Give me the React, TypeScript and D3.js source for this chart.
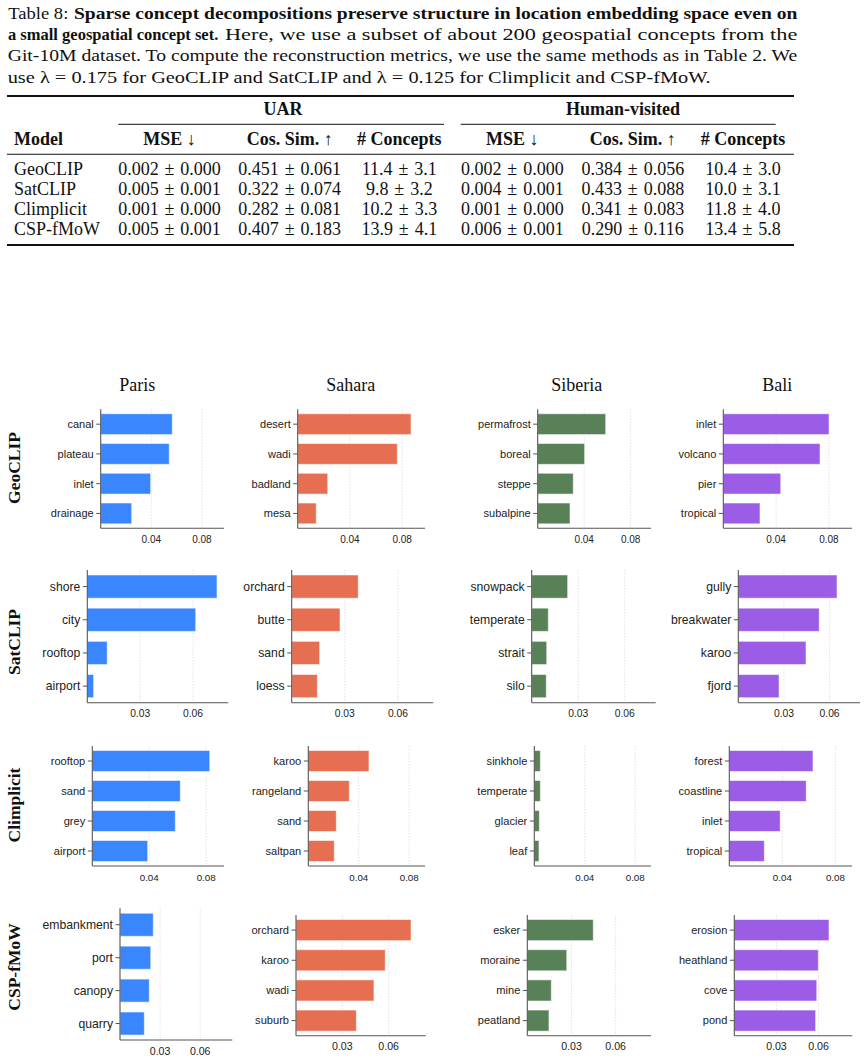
import * as d3 from 'd3'

// ---- table values (mean, std) ----
const tableModels = ['GeoCLIP', 'SatCLIP', 'Climplicit', 'CSP-fMoW']
const uarMse = [[0.002, 0.0], [0.005, 0.001], [0.001, 0.0], [0.005, 0.001]]
const uarCos = [[0.451, 0.061], [0.322, 0.074], [0.282, 0.081], [0.407, 0.183]]
const uarConcepts = [[11.4, 3.1], [9.8, 3.2], [10.2, 3.3], [13.9, 4.1]]
const hvMse = [[0.002, 0.0], [0.004, 0.001], [0.001, 0.0], [0.006, 0.001]]
const hvCos = [[0.384, 0.056], [0.433, 0.088], [0.341, 0.083], [0.29, 0.116]]
const hvConcepts = [[10.4, 3.0], [10.0, 3.1], [11.8, 4.0], [13.4, 5.8]]

// ---- concept weights, one list per location ----
const regions = ['Paris', 'Sahara', 'Siberia', 'Bali']
const modelNames = ['GeoCLIP', 'SatCLIP', 'Climplicit', 'CSP-fMoW']
const regionColors = ['#3a86ff', '#e76f51', '#588157', '#9b5de5']

const geoclipConcepts = [
  ['canal', 'plateau', 'inlet', 'drainage'],
  ['desert', 'wadi', 'badland', 'mesa'],
  ['permafrost', 'boreal', 'steppe', 'subalpine'],
  ['inlet', 'volcano', 'pier', 'tropical'],
]
const geoclipWeights = [
  [0.0566, 0.0542, 0.0395, 0.0245],
  [0.0868, 0.0763, 0.023, 0.0142],
  [0.0585, 0.0404, 0.0306, 0.0278],
  [0.0801, 0.0733, 0.0435, 0.0278],
]
const satclipConcepts = [
  ['shore', 'city', 'rooftop', 'airport'],
  ['orchard', 'butte', 'sand', 'loess'],
  ['snowpack', 'temperate', 'strait', 'silo'],
  ['gully', 'breakwater', 'karoo', 'fjord'],
]
const satclipWeights = [
  [0.0736, 0.0615, 0.0113, 0.0036],
  [0.0376, 0.0273, 0.0158, 0.0145],
  [0.0232, 0.0107, 0.0097, 0.0094],
  [0.0649, 0.0532, 0.0445, 0.0268],
]
const climplicitConcepts = [
  ['rooftop', 'sand', 'grey', 'airport'],
  ['karoo', 'rangeland', 'sand', 'saltpan'],
  ['sinkhole', 'temperate', 'glacier', 'leaf'],
  ['forest', 'coastline', 'inlet', 'tropical'],
]
const climplicitWeights = [
  [0.0825, 0.0618, 0.0583, 0.0389],
  [0.0481, 0.0325, 0.0222, 0.0206],
  [0.0048, 0.0048, 0.004, 0.0037],
  [0.0631, 0.058, 0.0384, 0.0264],
]
const cspConcepts = [
  ['embankment', 'port', 'canopy', 'quarry'],
  ['orchard', 'karoo', 'wadi', 'suburb'],
  ['esker', 'moraine', 'mine', 'peatland'],
  ['erosion', 'heathland', 'cove', 'pond'],
]
const cspWeights = [
  [0.0249, 0.023, 0.0219, 0.0182],
  [0.0745, 0.0578, 0.0505, 0.0391],
  [0.0448, 0.0268, 0.0163, 0.0147],
  [0.0674, 0.0598, 0.0587, 0.0579],
]
const rowTicks = [[0.04, 0.08], [0.03, 0.06], [0.04, 0.08], [0.03, 0.06]]

const allConcepts = [geoclipConcepts, satclipConcepts, climplicitConcepts, cspConcepts]
const allWeights = [geoclipWeights, satclipWeights, climplicitWeights, cspWeights]

// ---- grid layout ----
const rowXMax = [0.0975, 0.08, 0.0925, 0.084]
const frameLeft = [
  [100.7, 297.7, 537.7, 723.3],
  [87.3, 291.7, 531.7, 738.3],
  [92.3, 308.3, 534.3, 729.3],
  [120, 296, 527.3, 734.3],
]
const frameRight = [
  [224, 425, 651, 852],
  [228.3, 433.3, 655.7, 860],
  [224, 425, 651, 852],
  [232.3, 425.7, 651, 852.3],
]
const frameTop = [
  [409.3, 409.3, 409.3, 409.3],
  [570, 570, 570, 570],
  [746, 746, 746, 746],
  [908.3, 915, 915, 915],
]
const frameBottom = [
  [528.3, 528.3, 528.3, 528.3],
  [702.7, 702.7, 702.7, 702.7],
  [866, 866, 866, 866],
  [1040, 1035.7, 1035.7, 1035.7],
]
// label sizes differ a little from panel to panel
const labelSize = [
  [11, 11, 11, 11],
  [12.2, 12.2, 12.2, 12.2],
  [11.1, 11.1, 11.1, 11.1],
  [12.2, 11.1, 11.1, 11],
]
const tickSize = [10, 10.3, 9.8, 10.6]
const titleX = [137.3, 350.7, 576.7, 777.3]
const rowLabelY = [468, 642, 805, 967]

const SERIF = '"Liberation Serif", "Times New Roman", Times, serif'
const SANS = '"Liberation Sans", Arial, Helvetica, sans-serif'
const SPINE = '#555'

function Cell({ x, y, anchor = 'middle', bold = false, children }: any) {
  return (
    <text x={x} y={y} textAnchor={anchor} fontWeight={bold ? 'bold' : 'normal'}>
      {children}
    </text>
  )
}

// mean ± std with math-style spacing round the sign
function PlusMinus({ x, y, v, d }: { x: number; y: number; v: number[]; d: number }) {
  return (
    <text x={x} y={y} textAnchor="middle">
      <tspan>{v[0].toFixed(d)}</tspan>
      <tspan dx={1.4}>{' ± '}</tspan>
      <tspan dx={1.4}>{v[1].toFixed(d)}</tspan>
    </text>
  )
}

function Caption() {
  // each run is fitted to its justified width
  const seg = (x: number, y: number, w: number, txt: string, bold = false, size = 17.5) => (
    <text x={x} y={y} textLength={w} lengthAdjust="spacingAndGlyphs"
      fontSize={size} fontWeight={bold ? 'bold' : 'normal'}>
      {txt}
    </text>
  )
  return (
    <g fontFamily={SERIF} fill="#111">
      {seg(8.3, 19, 60, 'Table 8:')}
      {seg(74, 19, 723.3, 'Sparse concept decompositions preserve structure in location embedding space even on', true)}
      {seg(8, 40.2, 210.3, 'a small geospatial concept set.', true, 16.8)}
      {seg(225, 40.2, 572.3, 'Here, we use a subset of about 200 geospatial concepts from the')}
      {seg(7.7, 61.4, 789.6, 'Git-10M dataset. To compute the reconstruction metrics, we use the same methods as in Table 2. We')}
      {seg(7.7, 82.5, 703, 'use λ = 0.175 for GeoCLIP and SatCLIP and λ = 0.125 for Climplicit and CSP-fMoW.')}
    </g>
  )
}

function MetricsTable() {
  const colX = [169.5, 289.7, 399.3, 512.3, 632.8, 743]
  const headers = ['MSE ↓', 'Cos. Sim. ↑', '# Concepts', 'MSE ↓', 'Cos. Sim. ↑', '# Concepts']
  const rowY = d3.range(tableModels.length).map(i => 174.5 + i * 20)
  return (
    <g fontFamily={SERIF} fontSize={18} fill="#111">
      <line x1={7} x2={794} y1={96} y2={96} stroke="#111" strokeWidth={2} />
      <Cell x={283} y={115} bold>UAR</Cell>
      <Cell x={623} y={115} bold>Human-visited</Cell>
      <line x1={118.3} x2={444} y1={124.3} y2={124.3} stroke="#111" strokeWidth={1} />
      <line x1={460.7} x2={775.7} y1={124.3} y2={124.3} stroke="#111" strokeWidth={1} />
      <Cell x={14} y={145.3} anchor="start" bold>Model</Cell>
      {headers.map((h, i) => (
        <Cell key={i} x={colX[i]} y={145.3} bold>{h}</Cell>
      ))}
      <line x1={7} x2={794} y1={154.3} y2={154.3} stroke="#111" strokeWidth={1.1} />
      {tableModels.map((m, i) => {
        const cells = [uarMse[i], uarCos[i], uarConcepts[i], hvMse[i], hvCos[i], hvConcepts[i]]
        const digits = [3, 3, 1, 3, 3, 1]
        return (
          <g key={m}>
            <Cell x={14} y={rowY[i]} anchor="start">{m}</Cell>
            {cells.map((c, j) => (
              <PlusMinus key={j} x={colX[j]} y={rowY[i]} v={c} d={digits[j]} />
            ))}
          </g>
        )
      })}
      <line x1={7} x2={794} y1={245} y2={245} stroke="#111" strokeWidth={2} />
    </g>
  )
}

function Panel({ row, col }: { row: number; col: number }) {
  const concepts = allConcepts[row][col]
  const weights = allWeights[row][col]
  const left = frameLeft[row][col]
  const right = frameRight[row][col]
  const top = frameTop[row][col]
  const bottom = frameBottom[row][col]

  const x = d3.scaleLinear().domain([0, rowXMax[row]]).range([left, right])
  const y = d3.scaleBand<string>()
    .domain(concepts)
    .range([top, bottom])
    .paddingInner(0.3)
    .paddingOuter(0.15)

  const fmt = d3.format('.2f')

  return (
    <g>
      {/* dotted vertical grid */}
      {rowTicks[row].map(t => (
        <line key={t} x1={x(t)} x2={x(t)} y1={top} y2={bottom}
          stroke="#dcdcdc" strokeWidth={0.8} strokeDasharray="1.5,1.5" />
      ))}
      {concepts.map((c, i) => (
        <rect key={c}
          x={x(0)} y={y(c)!}
          width={x(weights[i]) - x(0)} height={y.bandwidth()}
          fill={regionColors[col]} stroke="#fff" strokeOpacity={0.55} strokeWidth={1} />
      ))}
      {/* spines */}
      <line x1={left} x2={left} y1={top} y2={bottom} stroke={SPINE} strokeWidth={1.1} />
      <line x1={left} x2={right} y1={bottom} y2={bottom} stroke={SPINE} strokeWidth={1.1} />
      {/* category axis */}
      {concepts.map(c => {
        const cy = y(c)! + y.bandwidth() / 2
        return (
          <g key={c}>
            <line x1={left - 4.5} x2={left} y1={cy} y2={cy} stroke={SPINE} strokeWidth={1} />
            <text x={left - 7} y={cy} dy="0.35em" textAnchor="end"
              fontFamily={SANS} fontSize={labelSize[row][col]} fill="#222">{c}</text>
          </g>
        )
      })}
      {/* value axis */}
      {rowTicks[row].map(t => (
        <text key={t} x={x(t)} y={bottom + 14.5} textAnchor="middle"
          fontFamily={SANS} fontSize={tickSize[row]} fill="#222">{fmt(t)}</text>
      ))}
    </g>
  )
}

function ConceptGrid() {
  return (
    <g>
      {regions.map((r, i) => (
        <text key={r} x={titleX[i]} y={390.5} textAnchor="middle"
          fontFamily={SERIF} fontSize={18} fill="#111">{r}</text>
      ))}
      {modelNames.map((m, i) => (
        <text key={m} transform={`translate(20,${rowLabelY[i]}) rotate(-90)`} textAnchor="middle"
          fontFamily={SERIF} fontSize={17.5} fontWeight="bold" fill="#111">{m}</text>
      ))}
      {modelNames.map((m, row) =>
        regions.map((r, col) => <Panel key={`${m}-${r}`} row={row} col={col} />)
      )}
    </g>
  )
}

export default function App() {
  return (
    <div style={{ position: 'absolute', left: 0, top: 0, background: '#fff' }}>
      <svg width={868} height={1062} viewBox="0 0 868 1062" style={{ display: 'block' }}>
        <rect width={868} height={1062} fill="#fff" />
        <Caption />
        <MetricsTable />
        <ConceptGrid />
      </svg>
    </div>
  )
}
